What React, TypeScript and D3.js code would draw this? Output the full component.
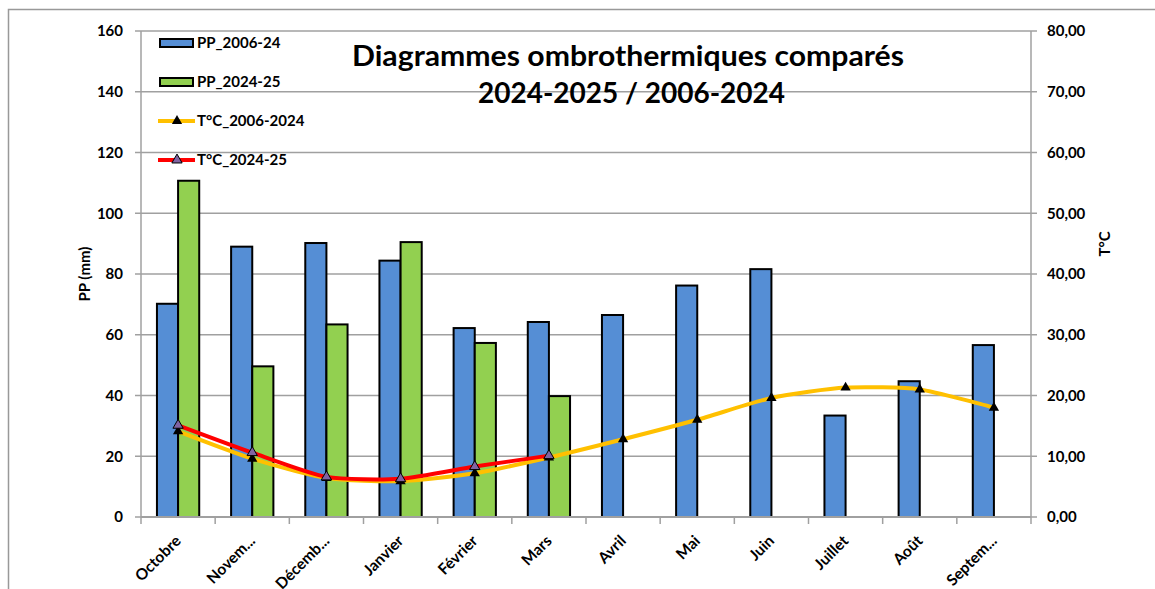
import * as d3 from "d3";

const months = ["Octobre", "Novem...", "Décemb...", "Janvier", "Février", "Mars", "Avril", "Mai", "Juin", "Juillet", "Août", "Septem..."];
const ppMean = [70.2, 89, 90.2, 84.4, 62.2, 64.2, 66.5, 76.2, 81.6, 33.4, 44.7, 56.6];
const ppCurrent: (number | null)[] = [110.7, 49.6, 63.4, 90.5, 57.3, 39.8, null, null, null, null, null, null];
const tMean = [14.1, 9.6, 6.4, 5.9, 7.2, 9.8, 12.8, 16.0, 19.6, 21.3, 21.0, 18.0];
const tCurrent = [15.1, 10.6, 6.6, 6.3, 8.3, 10.1];
const ppTicks = [0, 20, 40, 60, 80, 100, 120, 140, 160];
const tTicks = [0, 10, 20, 30, 40, 50, 60, 70, 80];

const FONT = "Lato, 'Open Sans', sans-serif";
const GRID = "#a0a0a0";

export default function App() {
  const width = 1155;
  const height = 589;
  const margin = { top: 31, right: 124, bottom: 72, left: 141 };
  const innerWidth = width - margin.left - margin.right;
  const innerHeight = 486;

  const x = d3.scaleBand().domain(months).range([0, innerWidth]).padding(0);
  const bw = x.bandwidth() * 0.285;
  const yPP = d3.scaleLinear().domain([0, 160]).range([innerHeight, 0]);
  const yT = d3.scaleLinear().domain([0, 80]).range([innerHeight, 0]);
  const cx = (m: string) => (x(m) ?? 0) + x.bandwidth() / 2;

  const line = d3
    .line<[string, number]>()
    .x((d) => cx(d[0]))
    .y((d) => yT(d[1]))
    .curve(d3.curveCardinal.tension(0.35));
  const meanPts = months.map((m, i) => [m, tMean[i]] as [string, number]);
  const curPts = tCurrent.map((v, i) => [months[i], v] as [string, number]);
  const tri = d3.symbol(d3.symbolTriangle, 46)() ?? "";

  const legendItems = [
    { label: "PP_2006-24", kind: "bar", color: "#558ED5" },
    { label: "PP_2024-25", kind: "bar", color: "#92D050" },
    { label: "T°C_2006-2024", kind: "line", color: "#FFC000", marker: "#000" },
    { label: "T°C_2024-25", kind: "line", color: "#FF0000", marker: "#8064A2" },
  ];

  return (
    <svg
      width={width}
      height={height}
      style={{ position: "absolute", left: 0, top: 0, background: "#fff" }}
      fontFamily={FONT}
    >
      <rect x={8.5} y={9.5} width={1200} height={700} fill="#fff" stroke="#999" strokeWidth={1.5} />
      <g transform={`translate(${margin.left}, ${margin.top})`}>
        {ppTicks.map((t) => (
          <g key={`g-${t}`}>
            <line x1={-6} x2={innerWidth} y1={yPP(t)} y2={yPP(t)} stroke={GRID} strokeWidth={1.5} />
            <line x1={innerWidth} x2={innerWidth + 6} y1={yPP(t)} y2={yPP(t)} stroke={GRID} strokeWidth={1.5} />
            <text x={-18} y={yPP(t)} dy="0.35em" textAnchor="end" fontSize={15} fontWeight={700}>
              {t}
            </text>
          </g>
        ))}
        {tTicks.map((t) => (
          <text key={`t-${t}`} x={innerWidth + 16} y={yT(t)} dy="0.35em" fontSize={15} fontWeight={700}>
            {t.toFixed(2).replace(".", ",")}
          </text>
        ))}
        <text
          x={352 - margin.left}
          y={66 - margin.top}
          textLength={552}
          lengthAdjust="spacingAndGlyphs"
          fontSize={28}
          fontWeight={700}
        >
          Diagrammes ombrothermiques comparés
        </text>
        <text
          x={478 - margin.left}
          y={103 - margin.top}
          textLength={307}
          lengthAdjust="spacingAndGlyphs"
          fontSize={28}
          fontWeight={700}
        >
          2024-2025 / 2006-2024
        </text>
        {months.map((m, i) => (
          <g key={m}>
            <rect x={cx(m) - bw} y={yPP(ppMean[i])} width={bw} height={innerHeight - yPP(ppMean[i])} fill="#558ED5" stroke="#000" strokeWidth={2} />
            {ppCurrent[i] != null && (
              <rect x={cx(m)} y={yPP(ppCurrent[i] as number)} width={bw} height={innerHeight - yPP(ppCurrent[i] as number)} fill="#92D050" stroke="#000" strokeWidth={2} />
            )}
          </g>
        ))}
        <line x1={0} x2={0} y1={0} y2={innerHeight} stroke={GRID} strokeWidth={1.5} />
        <line x1={innerWidth} x2={innerWidth} y1={0} y2={innerHeight} stroke={GRID} strokeWidth={1.5} />
        <line x1={0} x2={innerWidth} y1={innerHeight} y2={innerHeight} stroke={GRID} strokeWidth={2} />
        {d3.range(months.length + 1).map((i) => (
          <line key={`xt-${i}`} x1={i * x.step()} x2={i * x.step()} y1={innerHeight} y2={innerHeight + 7} stroke={GRID} strokeWidth={1.5} />
        ))}
        <path d={line(meanPts) ?? ""} fill="none" stroke="#FFC000" strokeWidth={4} />
        {meanPts.map(([m, v]) => (
          <path key={`mm-${m}`} d={tri} transform={`translate(${cx(m)}, ${yT(v)})`} fill="#000" />
        ))}
        <path d={line(curPts) ?? ""} fill="none" stroke="#FF0000" strokeWidth={4} />
        {curPts.map(([m, v]) => (
          <path key={`cm-${m}`} d={tri} transform={`translate(${cx(m)}, ${yT(v)})`} fill="#8064A2" stroke="#000" strokeWidth={1} />
        ))}
        {months.map((m) => (
          <text
            key={`xl-${m}`}
            transform={`translate(${cx(m)}, ${507}) rotate(-45)`}
            textAnchor="end"
            dy="0.35em"
            fontSize={15.5}
            fontWeight={700}
          >
            {m}
          </text>
        ))}
      </g>
      <text transform="translate(90, 274) rotate(-90)" textAnchor="middle" fontSize={15} fontWeight={700}>
        PP (mm)
      </text>
      <text transform="translate(1110, 244) rotate(-90)" textAnchor="middle" fontSize={15} fontWeight={700}>
        T°C
      </text>
      {legendItems.map((it, i) => {
        const cy = 43 + i * 39;
        return (
          <g key={it.label}>
            {it.kind === "bar" ? (
              <rect x={160} y={cy - 4} width={33} height={8} fill={it.color} stroke="#000" strokeWidth={2} />
            ) : (
              <g>
                <line x1={158} x2={195} y1={cy} y2={cy} stroke={it.color} strokeWidth={4} />
                <path d={tri} transform={`translate(177, ${cy})`} fill={it.marker} stroke="#000" strokeWidth={it.marker === "#000" ? 0 : 1} />
              </g>
            )}
            <text x={197} y={cy} dy="0.35em" fontSize={15} fontWeight={700}>
              {it.label}
            </text>
          </g>
        );
      })}
    </svg>
  );
}
